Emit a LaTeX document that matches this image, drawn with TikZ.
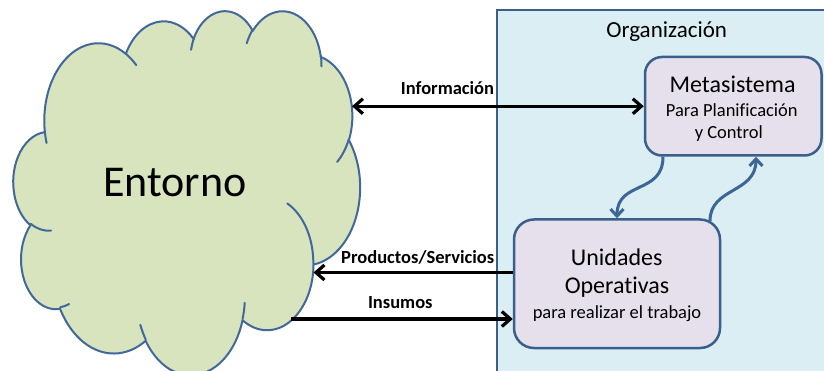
\documentclass[tikz,border=0pt]{standalone}
\usepackage{fontspec}
\setmainfont[Ligatures=NoCommon]{Carlito}
\usetikzlibrary{arrows.meta}
\definecolor{cloudfill}{HTML}{D7E4BD}
\definecolor{cloudedge}{HTML}{41689A}
\definecolor{orgfill}{HTML}{DAEEF3}
\definecolor{boxfill}{HTML}{E6E0EC}
\definecolor{edgeblue}{HTML}{3A5F8B}
\definecolor{flowblue}{HTML}{3C6698}
\begin{document}
\begin{tikzpicture}[x=1pt,y=-1pt,
  carc/.style n args={4}{x radius=#1, y radius=#2,
    start angle={atan2((#1)*sin(#3),(#2)*cos(#3))},
    delta angle={mod(atan2((#1)*sin((#3)+(#4)),(#2)*cos((#3)+(#4)))-atan2((#1)*sin(#3),(#2)*cos(#3))+720,360)}},
  cloudbody/.style={fill=cloudfill, draw=cloudedge, line width=2pt, line join=round},
  cloudtick/.style={draw=cloudedge, line width=2pt, line cap=round},
  orgbox/.style={draw=edgeblue, line width=2pt, fill=orgfill, rectangle, inner sep=0pt},
  unitbox/.style={draw=edgeblue, line width=2.5pt, fill=boxfill, rectangle, rounded corners=#1, inner sep=0pt},
  bigtxt/.style={font=\fontsize{24}{28}\selectfont, anchor=base, inner sep=0pt},
  smalltxt/.style={font=\fontsize{18.5}{22}\selectfont, anchor=base, inner sep=0pt},
  lbl/.style={font=\bfseries\fontsize{18.5}{22}\selectfont, anchor=base, inner sep=0pt},
  flow/.style={line width=3.2pt, black, -{Straight Barb[length=8.5pt,width=15pt]}},
  dflow/.style={line width=3.2pt, black, {Straight Barb[length=8.5pt,width=15pt]}-{Straight Barb[length=8.5pt,width=15pt]}},
  wavy/.style={line width=3pt, flowblue, -{Straight Barb[length=7pt,width=13pt]}}
]
\useasboundingbox (0,0) rectangle (824,371);
\path[clip] (0,0) rectangle (824,371);

% Organization frame
\node[orgbox, minimum width=342.7pt, minimum height=374.7pt] (org) at (668.65,197.65) {};
\node[font=\fontsize{23}{27}\selectfont, anchor=base, inner sep=0pt] (orgt) at (666.7,38) {Organización};

% Cloud (Entorno)
\begin{scope}[shift={(13.5,10)}, x=1pt, y=1pt, xscale=0.80208, yscale=-0.84259]
  \path[cloudbody] (39.00,143.70)
    arc[carc={67.53}{91.90}{-190.4875}{123.7805}]
    arc[carc={53.33}{72.67}{-144.1024}{89.9452}]
    arc[carc={43.65}{59.45}{-145.8079}{99.7230}]
    arc[carc={48.57}{65.95}{-130.9861}{117.2417}]
    arc[carc={53.33}{72.73}{-78.7089}{109.0269}]
    arc[carc={67.75}{92.20}{-46.2673}{130.2690}]
    arc[carc={57.85}{78.67}{0.6250}{114.0333}]
    arc[carc={67.52}{92.15}{22.4516}{115.1726}]
    arc[carc={77.20}{105.43}{66.2426}{75.7110}]
    arc[carc={43.60}{59.18}{-274.9421}{146.7356}]
    arc[carc={43.45}{59.45}{-246.8285}{152.5189}]
    -- cycle;
  \path[cloudtick]
    (46.93,261.77) arc[carc={43.45}{59.45}{86.7420}{26.4295}]
    (69.28,348.99) arc[carc={43.60}{59.18}{73.6105}{11.4475}]
    (164.78,390.90) arc[carc={67.52}{92.15}{137.6242}{14.0811}]
    (288.27,347.51) arc[carc={67.52}{92.15}{6.4533}{15.9984}]
    (341.29,229.54) arc[carc={57.85}{78.67}{-70.2924}{70.9174}]
    (417.98,153.54) arc[carc={53.33}{72.73}{30.3180}{27.7515}]
    (383.24,54.26) arc[carc={48.57}{65.95}{-13.7443}{14.8589}]
    (290.78,39.52) arc[carc={48.57}{65.95}{-149.1815}{18.1954}]
    (221.41,47.20) arc[carc={43.65}{59.45}{-163.4943}{17.6864}]
    (140.00,51.92) arc[carc={67.53}{91.90}{-66.7070}{12.3194}]
    (41.27,157.89) arc[carc={67.53}{91.90}{157.6544}{11.8582}];
\end{scope}
\node[font=\fontsize{44}{50}\selectfont, anchor=base, inner sep=0pt] (ent) at (174.7,197) {Entorno};

% Boxes
\node[unitbox=17pt, minimum width=176.5pt, minimum height=98.5pt] (meta) at (733.25,106.25) {};
\node[bigtxt] (metat) at (732.5,92.5) {Metasistema};
\node[smalltxt] (metas1) at (731.8,116.5) {Para Planificación};
\node[smalltxt] (metas2) at (728.8,139) {y Control};

\node[unitbox=20pt, minimum width=206pt, minimum height=128.5pt] (unid) at (617,283.75) {};
\node[bigtxt] (unidt1) at (616.7,265.7) {Unidades};
\node[bigtxt] (unidt2) at (617,294) {Operativas};
\node[smalltxt] (unids) at (617,318.3) {para realizar el trabajo};

% Connectors
\coordinate (cInfo) at (352,106.25);
\coordinate (cProd) at (313.5,272.5);
\coordinate (cIns) at (291,319);
\coordinate (w1) at (663,0);
\coordinate (w2s) at (710,221);
\coordinate (w3) at (756,0);

\draw[dflow] (cInfo) -- (meta.west);
\draw[flow] (unid.west |- cProd) -- (cProd);
\draw[flow] (cIns) -- (unid.west |- cIns);
\draw[wavy] (meta.south -| w1) .. controls +(0,38) and +(0,-38) .. (unid.north);
\draw[wavy] (w2s) .. controls +(0,-34) and +(0,37) .. (meta.south -| w3);

\node[lbl] (linfo) at (447.5,94.3) {Información};
\node[lbl] (lprod) at (417.7,263.3) {Productos/Servicios};
\node[lbl] (lins) at (400.3,308.3) {Insumos};
\end{tikzpicture}
\end{document}
